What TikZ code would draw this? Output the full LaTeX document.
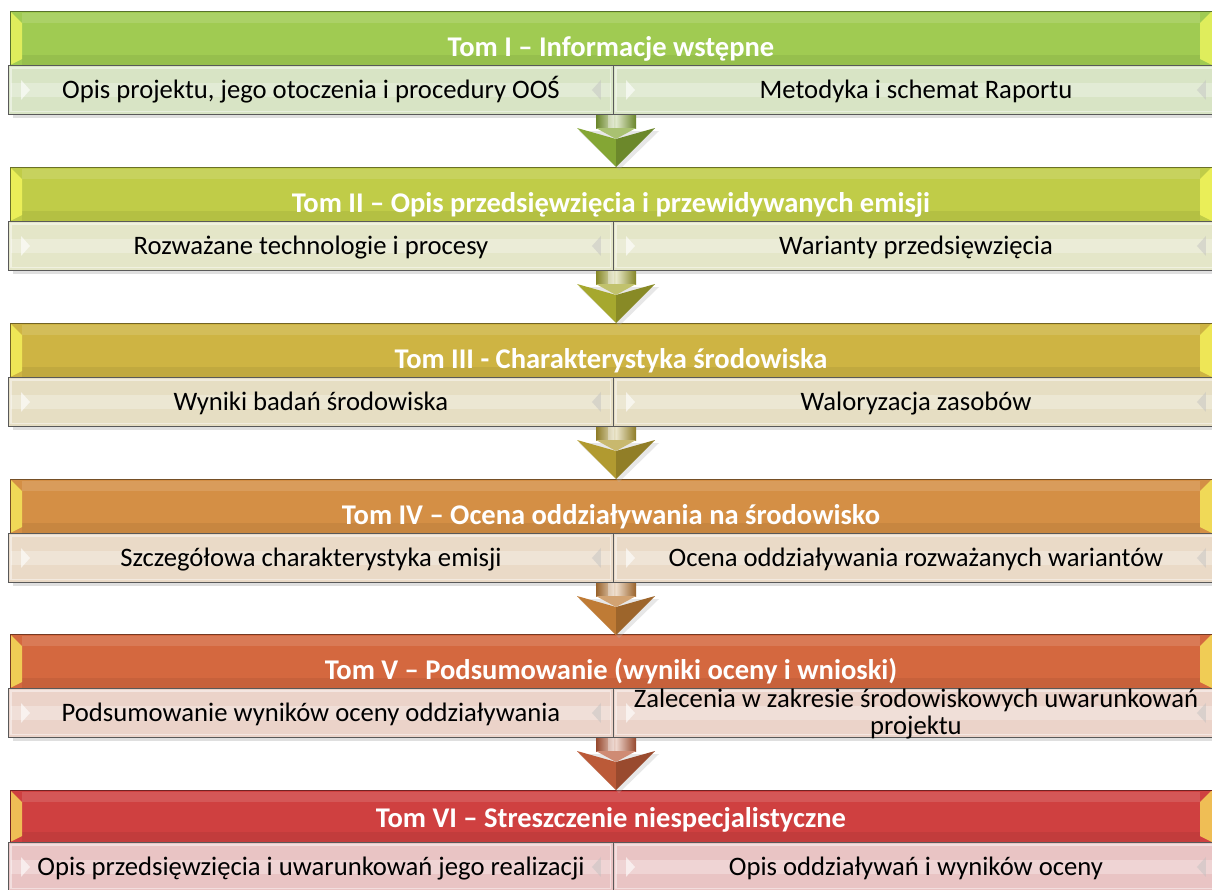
\documentclass[tikz,border=0pt]{standalone}
\usepackage{fontspec}
\setmainfont{Carlito}
\usetikzlibrary{calc}
\definecolor{hA}{HTML}{A0CB52}\definecolor{sA}{HTML}{D8E4C5}
\definecolor{hB}{HTML}{C0CC48}\definecolor{sB}{HTML}{E4E6C8}
\definecolor{hC}{HTML}{CEB443}\definecolor{sC}{HTML}{E6DEC3}
\definecolor{hD}{HTML}{D48F45}\definecolor{sD}{HTML}{EADAC7}
\definecolor{hE}{HTML}{D4683F}\definecolor{sE}{HTML}{EBD3C9}
\definecolor{hF}{HTML}{CF4040}\definecolor{sF}{HTML}{E9C4C4}
\definecolor{aA}{HTML}{84A634}\definecolor{aB}{HTML}{A6A82E}
\definecolor{aC}{HTML}{B19A30}\definecolor{aD}{HTML}{BF7B35}
\definecolor{aE}{HTML}{BB5A38}
\tikzset{
  htext/.style={text=white, font=\fontsize{21.4}{25}\selectfont\bfseries, inner sep=0pt, anchor=base},
  ctext/.style={text=black, font=\fontsize{20}{20.25}\selectfont, inner sep=0pt, align=center},
  cellbox/.style={rectangle, draw=black!65, line width=0.7pt, inner sep=0pt,
    minimum width=453.75pt, minimum height=36.75pt, anchor=north west},
  chevL/.style={fill=white, opacity=0.6},
  chevR/.style={fill=black!25, opacity=0.45},
}
% #1 id, #2 top, #3 header height, #4 header colour, #5 cell colour, #6 header text, #7 left text, #8 right text, #9 header baseline offset
\newcommand\blk[9]{%
  \fill[black!35, opacity=0.35] (13,#2+4) rectangle (1218,#2+#3+53);
  \fill[#4] (10,#2) rectangle (1212,#2+#3);
  \fill[white, opacity=0.12] (22,#2+2) rectangle (1200,#2+12);
  \fill[black, opacity=0.06] (22,#2+#3-10) rectangle (1200,#2+#3);
  \fill[#4!45!yellow!75!white] (10,#2) -- (22,#2+12) -- (22,#2+#3-6) -- (10,#2+#3) -- cycle;
  \fill[#4!45!yellow!75!white] (1212,#2) -- (1200,#2+12) -- (1200,#2+#3-6) -- (1212,#2+#3) -- cycle;
  \draw[#4!55!black, line width=0.5pt] (10,#2) rectangle (1212,#2+#3);
  \node[htext] (#1h) at (611,#2+#9) {#6};
  \node[cellbox, fill=#5] (#1l) at (8,#2+#3) {};
  \node[cellbox, fill=#5] (#1r) at (613,#2+#3) {};
  \foreach \c in {#1l,#1r}{%
    \fill[white, opacity=0.28] ($(\c.west)+(3,-7)$) rectangle ($(\c.east)+(-3,7)$);
    \draw[white, opacity=0.45, line width=0.8pt] ($(\c.north west)+(3,3)$) rectangle ($(\c.south east)+(-3,-3)$);
    \fill[chevL] ($(\c.west)+(13,-10)$) -- ($(\c.west)+(22,0)$) -- ($(\c.west)+(13,10)$) -- cycle;
    \fill[chevR] ($(\c.east)+(-13,-10)$) -- ($(\c.east)+(-22,0)$) -- ($(\c.east)+(-13,10)$) -- cycle;
  }
  \node[ctext, anchor=base] (#1lt) at ($(#1l.center)+(0,9)$) {#7};
  \node[ctext, anchor=base] (#1rt) at ($(#1r.center)+(0,9)$) {#8};
}
% #1 id, #2 top of upper block, #3 colour
\newcommand\arrw[3]{%
  \coordinate (#1t) at (616,#2+104);
  \coordinate (#1p) at (616,#2+156);
  \fill[black!30, opacity=0.3] ($(#1p)+(-37,-36)$) -- ($(#1p)+(43,-36)$) -- ($(#1p)+(3,3)$) -- cycle;
  \shade[left color=#3!80!black, right color=#3!80!black, middle color=#3!25!white]
    ($(#1t)+(-20,0)$) rectangle ($(#1p)+(20,-39)$);
  \fill[white, opacity=0.35] ($(#1t)+(-8,0)$) rectangle ($(#1p)+(-2,-39)$);
  \fill[#3] ($(#1p)+(-39,-39)$) -- ($(#1p)+(0,-28)$) -- (#1p) -- cycle;
  \fill[#3!82!black] ($(#1p)+(39,-39)$) -- ($(#1p)+(0,-28)$) -- (#1p) -- cycle;
  \fill[#3!70!white] ($(#1p)+(-20,-39)$) -- ($(#1p)+(20,-39)$) -- ($(#1p)+(0,-28)$) -- cycle;
}
\begin{document}
\begin{tikzpicture}[x=0.75pt, y=-0.75pt]
\useasboundingbox (0,0) rectangle (1212,889);
\clip (0,0) rectangle (1212,889);
\fill[white] (0,0) rectangle (1212,889);
\blk{bA}{11}{54}{hA}{sA}{Tom I – Informacje wstępne}{Opis projektu, jego otoczenia i procedury OOŚ}{Metodyka i schemat Raportu}{45}
\blk{bB}{167}{54}{hB}{sB}{Tom II – Opis przedsięwzięcia i przewidywanych emisji}{Rozważane technologie i procesy}{Warianty przedsięwzięcia}{45}
\blk{bC}{323}{54}{hC}{sC}{Tom III - Charakterystyka środowiska}{Wyniki badań środowiska}{Waloryzacja zasobów}{45}
\blk{bD}{479}{54}{hD}{sD}{Tom IV – Ocena oddziaływania na środowisko}{Szczegółowa charakterystyka emisji}{Ocena oddziaływania rozważanych wariantów}{45}
\blk{bE}{634}{54}{hE}{sE}{Tom V – Podsumowanie (wyniki oceny i wnioski)}{Podsumowanie wyników oceny oddziaływania}{}{45}
\node[ctext] (bErt2) at ($(bEr.center)+(0,1)$) {Zalecenia w zakresie środowiskowych uwarunkowań\\projektu};
\blk{bF}{790}{52}{hF}{sF}{Tom VI – Streszczenie niespecjalistyczne}{Opis przedsięwzięcia i uwarunkowań jego realizacji}{Opis oddziaływań i wyników oceny}{37}
\arrw{aA}{11}{aA}
\arrw{aB}{167}{aB}
\arrw{aC}{323}{aC}
\arrw{aD}{479}{aD}
\arrw{aE}{634}{aE}
\end{tikzpicture}
\end{document}
